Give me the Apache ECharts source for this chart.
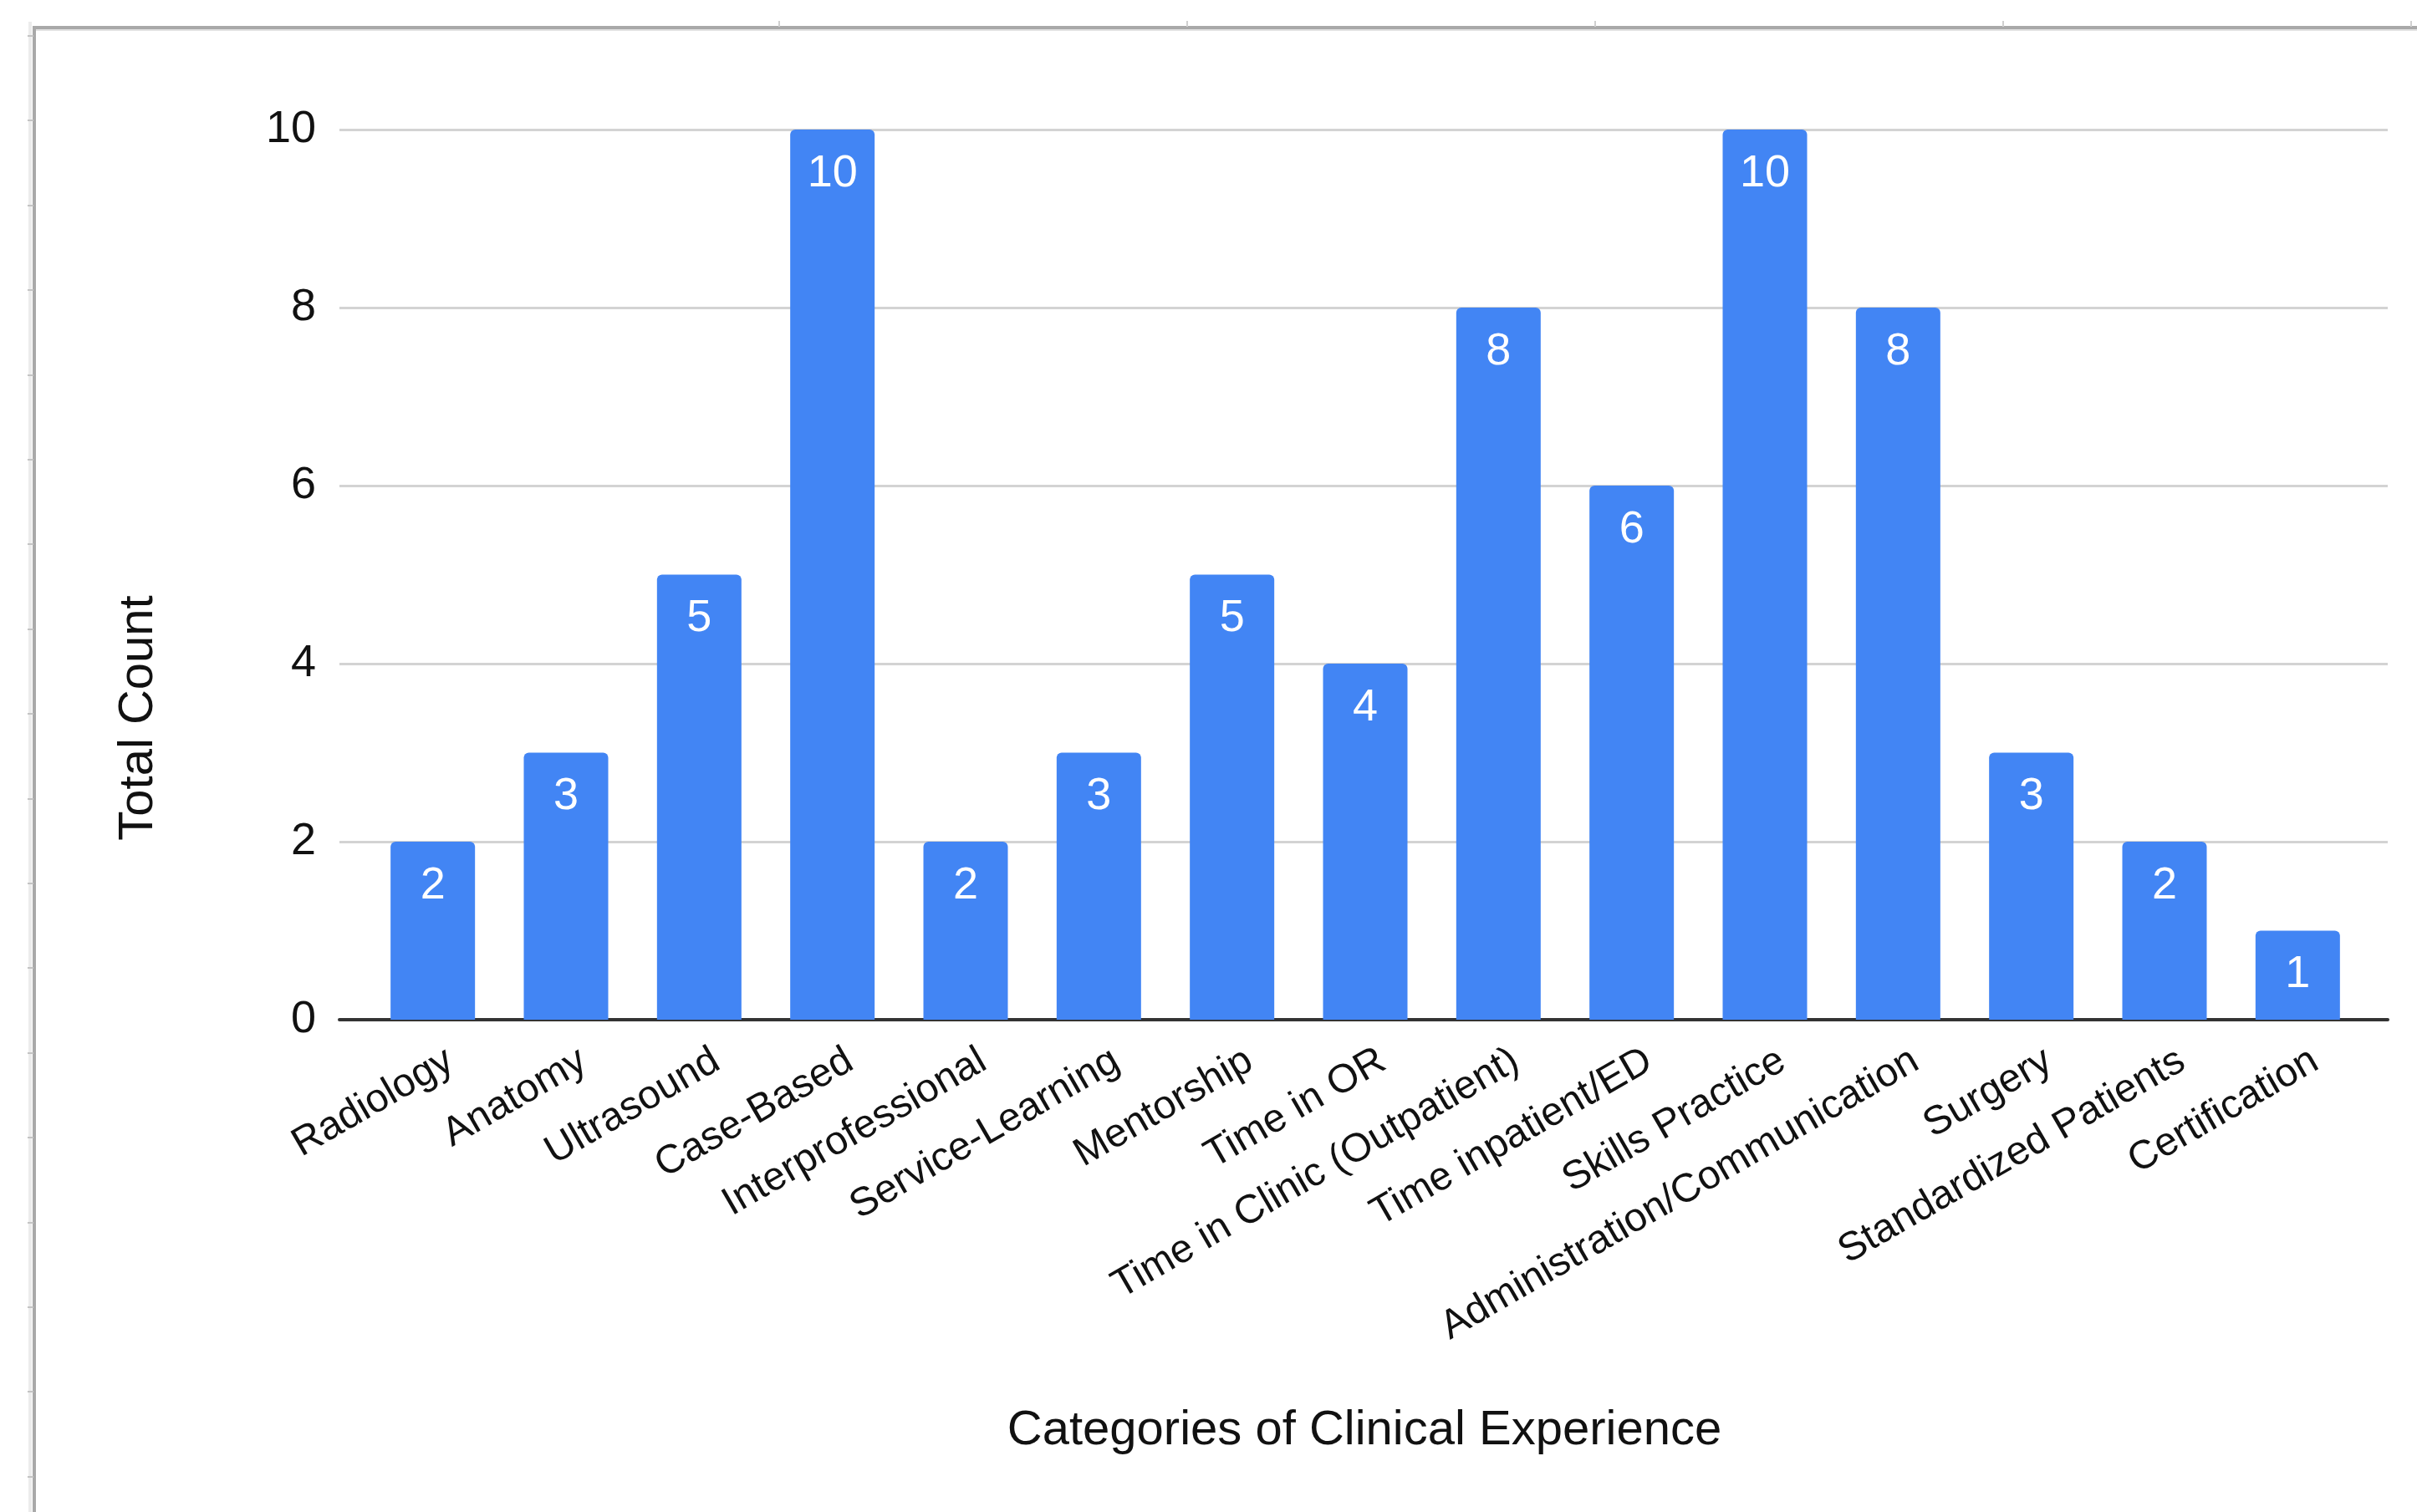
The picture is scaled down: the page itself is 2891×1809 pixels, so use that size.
<!DOCTYPE html>
<html>
<head>
<meta charset="utf-8">
<script src="https://cdn.jsdelivr.net/npm/echarts@6/dist/echarts.min.js"></script>
<style>
html, body {margin: 0; padding: 0; background: #fff;}
#main {width: 2891px; height: 1809px;}
</style>
</head>
<body>
<div id="main"></div>
<script>
// categories and counts
var categories = ['Radiology', 'Anatomy', 'Ultrasound', 'Case-Based', 'Interprofessional',
    'Service-Learning', 'Mentorship', 'Time in OR', 'Time in Clinic (Outpatient)',
    'Time inpatient/ED', 'Skills Practice', 'Administration/Communication', 'Surgery',
    'Standardized Patients', 'Certification'];
var counts = [2, 3, 5, 10, 2, 3, 5, 4, 8, 6, 10, 8, 3, 2, 1];
var yTicks = [0, 2, 4, 6, 8, 10];

var font = 'Liberation Sans, Arial, Helvetica, sans-serif';

var dom = document.getElementById("main");
var myChart = echarts.init(dom);

// screenshot frame (left and top edges with little ruler ticks)
var frame = [
    {type: 'rect', shape: {x: 34, y: 26, width: 4, height: 1783}, style: {fill: '#ececec'}},
    {type: 'rect', shape: {x: 39, y: 31, width: 4, height: 1778}, style: {fill: '#a9a9a9'}},
    {type: 'rect', shape: {x: 39, y: 31, width: 2852, height: 4}, style: {fill: '#a9a9a9'}},
    {type: 'rect', shape: {x: 43, y: 35, width: 2848, height: 2}, style: {fill: '#e2e2e2'}}
];
for (var ty = 42; ty < 1809; ty += 101.4) {
    frame.push({type: 'rect', shape: {x: 33, y: Math.round(ty), width: 7, height: 2}, style: {fill: '#c4c4c4'}});
}
for (var tx = 931; tx < 2891; tx += 488) {
    frame.push({type: 'rect', shape: {x: Math.round(tx), y: 25, width: 2, height: 7}, style: {fill: '#d0d0d0'}});
}

option = {
    animation: false,
    backgroundColor: '#fff',
    textStyle: {fontFamily: font},
    grid: [
        // grid for gridlines, y labels and the zero line
        {left: 406, right: 35, top: 155, bottom: 589},
        // grid for the bars (bands are inset from the gridlines)
        {left: 438, right: 63, top: 155, bottom: 589},
        // category labels, nudged right like the original
        {left: 459, right: 42, top: 155, bottom: 589}
    ],
    xAxis: [
        {
            gridIndex: 0, type: 'value', min: 0, max: 1,
            axisLine: {show: true, onZero: false, lineStyle: {color: '#333', width: 4}},
            axisTick: {show: false}, axisLabel: {show: false}, splitLine: {show: false}
        },
        {
            gridIndex: 1, type: 'category', data: categories,
            axisLine: {show: false}, axisTick: {show: false}, axisLabel: {show: false}
        },
        {
            gridIndex: 2, type: 'category', data: categories,
            axisLine: {show: false}, axisTick: {show: false},
            axisLabel: {
                rotate: 30, interval: 0, margin: 46,
                fontSize: 48, color: '#111', fontFamily: font
            }
        }
    ],
    yAxis: [
        {
            gridIndex: 0, type: 'value', min: yTicks[0], max: yTicks[yTicks.length - 1], interval: 2,
            axisLine: {show: false}, axisTick: {show: false},
            axisLabel: {fontSize: 54, color: '#111', margin: 28, fontFamily: font},
            splitLine: {lineStyle: {color: '#d3d3d3', width: 3}}
        },
        {gridIndex: 1, type: 'value', min: 0, max: 10, show: false},
        {gridIndex: 2, type: 'value', min: 0, max: 10, show: false}
    ],
    graphic: frame.concat([
        {
            type: 'text', x: 166, y: 859, rotation: Math.PI / 2,
            style: {text: 'Total Count', fontSize: 58, fontFamily: font, fill: '#111', align: 'center', verticalAlign: 'middle'}
        },
        {
            type: 'text', x: 1632, y: 1712,
            style: {text: 'Categories of Clinical Experience', fontSize: 58, fontFamily: font, fill: '#111', align: 'center', verticalAlign: 'middle'}
        }
    ]),
    series: [
        {
            name: 'Total Count',
            type: 'bar',
            xAxisIndex: 1,
            yAxisIndex: 1,
            barWidth: 101,
            data: counts,
            itemStyle: {color: '#4285f4', borderRadius: [6, 6, 0, 0]},
            label: {
                show: true, position: 'insideTop', distance: 26,
                color: '#fff', fontSize: 54, fontFamily: font
            }
        }
    ]
};
if (option && typeof option === "object") {
    myChart.setOption(option, true);
}
</script>
</body>
</html>
